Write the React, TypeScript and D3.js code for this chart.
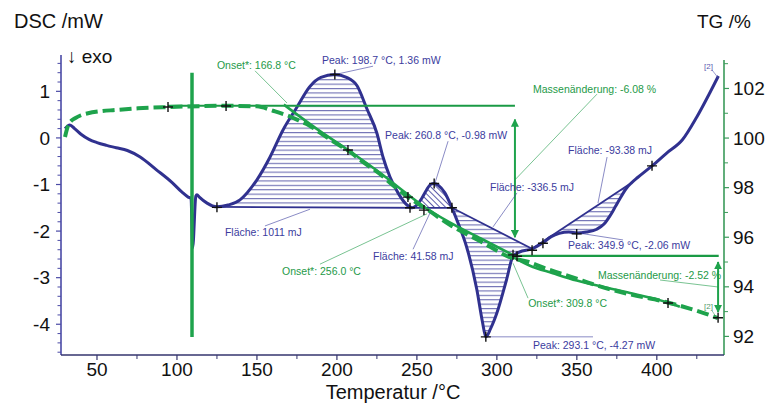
import React from "react";
import * as d3 from "d3";

const W = 769;
const H = 403;

// Axis domains
const tempDomain: [number, number] = [27.5, 442];
const dscDomain: [number, number] = [-4.66, 1.78];
const tgDomain: [number, number] = [91.25, 103.35];

const xMajorTicks = [50, 100, 150, 200, 250, 300, 350, 400];
const xMinorTicks = [75, 125, 175, 225, 275, 325, 375, 425];
const dscMajorTicks = [-4, -3, -2, -1, 0, 1];
const tgMajorTicks = [92, 94, 96, 98, 100, 102];
const tgMinorTicks = [93, 95, 97, 99, 101, 103];

// DSC curve [T °C, mW]
const dscCurve: [number, number][] = [
  [30, 0.2], [33, 0.28], [36, 0.2], [40, 0.08], [45, -0.03], [50, -0.1], [56, -0.16],
  [62, -0.21], [69, -0.27], [77, -0.41], [87, -0.68], [97, -0.96], [103, -1.16],
  [107, -1.27], [108.8, -1.3], [109.8, -2.36], [111.8, -1.25], [112.5, -1.22], [114, -1.27],
  [118.8, -1.4], [125, -1.48], [132, -1.44], [139.4, -1.33], [143.8, -1.18], [150, -0.9],
  [158.2, -0.41], [166.3, 0.17], [175, 0.66], [183, 1.1], [190, 1.3], [198.7, 1.36],
  [206, 1.3], [212.6, 1.12], [218.8, 0.62], [225, 0.1], [228.8, -0.41], [233.2, -0.84],
  [238.2, -1.18], [243.8, -1.44], [247, -1.5], [250.5, -1.42], [253, -1.3], [256, -1.12],
  [258.5, -1.0], [260.8, -0.98], [263.5, -1.02], [267.5, -1.18], [271.9, -1.5], [276, -1.85],
  [281, -2.33], [287.5, -3.26], [291, -3.95], [293.1, -4.27], [296, -4.1], [300, -3.76],
  [306, -3.05], [310, -2.55], [314, -2.45], [322, -2.38], [328.8, -2.25], [334, -2.12],
  [339, -2.05], [345, -2.02], [350, -2.04], [356, -2.02], [362.5, -1.96], [367, -1.85],
  [370.6, -1.68], [374, -1.48], [377, -1.3], [381, -1.08], [384, -0.97], [388, -0.85],
  [397, -0.6], [406, -0.33], [416, -0.04], [425, 0.45], [433, 0.96], [438.5, 1.33],
];

// Integration ranges [T start, T end] and hatch style
const peakAreas: { from: number; to: number; hatch: string }[] = [
  { from: 125, to: 247, hatch: "h" },
  { from: 247, to: 271.9, hatch: "d" },
  { from: 271.9, to: 322, hatch: "h" },
  { from: 322, to: 384, hatch: "h" },
];

// TG curve [T °C, %] (dashed)
const tgCurve: [number, number][] = [
  [30, 100.04], [31.9, 100.5], [34, 100.7], [36.3, 100.8], [40, 100.92], [44.4, 101.0],
  [52, 101.08], [61.3, 101.13], [75.6, 101.2], [94.4, 101.25], [130, 101.3], [150, 101.28],
  [160, 101.1], [170.6, 100.87], [177, 100.68], [183, 100.5], [189.4, 100.22], [198, 99.85],
  [206.9, 99.5], [216, 99.05], [226.9, 98.55], [235, 98.1], [243.8, 97.65], [258, 97.05],
  [270.6, 96.5], [289.4, 95.85], [310, 95.15], [320, 95.0], [331.3, 94.72], [347.5, 94.38],
  [364.4, 94.02], [383, 93.7], [406.3, 93.38], [420.6, 93.12], [431.3, 92.9], [438.1, 92.74],
];

// Tangent / evaluation lines (solid) [T, %]
const tangentStep1: [number, number][] = [
  [166.8, 101.35], [189.4, 100.28], [206.9, 99.52], [226.9, 98.6], [243.8, 97.75],
  [256.3, 97.15], [272, 96.55], [290, 95.95], [310.1, 95.28],
];
const tangentStep2: [number, number][] = [
  [310.1, 95.2], [320.7, 94.85], [335, 94.55], [350, 94.25], [380, 93.8], [406.3, 93.38], [414.4, 93.2],
];
const levelUpper: [number, number][] = [[94.4, 101.3], [311.3, 101.3]];
const levelLower: [number, number][] = [[310.1, 95.25], [438.7, 95.25]];
const tgGlitch: [number, number][] = [[109.4, 102.63], [109.4, 91.98]];
const massArrows: [number, number, number][] = [
  [311.3, 100.75, 96.0],
  [438.3, 95.0, 92.98],
];

// Cross markers
const dscMarks: [number, number][] = [
  [125, -1.49], [198.7, 1.36], [244.4, -1.27], [245.7, -1.5], [254.4, -1.55], [260.8, -0.98],
  [271.9, -1.5], [293.1, -4.27], [310.1, -2.51], [312.6, -2.54], [322, -2.41], [328.8, -2.26],
  [349.9, -2.06], [397, -0.6],
];
const tgMarks: [number, number][] = [
  [94.4, 101.25], [130.7, 101.29], [206.9, 99.52], [407, 93.35], [438.3, 92.75],
];

// Annotations (anchored in T / mW coordinates)
type Ann = { text: string; t: number; v: number; color: string; anchor?: string; leader: [number, number, number, number] };
const BLUE_T = "#3b3c9e";
const GREEN_T = "#1e9a48";
const annotations: Ann[] = [
  { text: "Onset*: 166.8 °C", t: 125.0, v: 1.48, color: GREEN_T, leader: [148.8, 1.44, 168.8, 0.75] },
  { text: "Peak: 198.7 °C, 1.36 mW", t: 190.7, v: 1.59, color: BLUE_T, leader: [200.1, 1.37, 222.6, 1.54] },
  { text: "Peak: 260.8 °C, -0.98 mW", t: 230.1, v: -0.02, color: BLUE_T, leader: [269.5, -0.07, 261.3, -0.97] },
  { text: "Fläche: 1011 mJ", t: 130.0, v: -2.1, color: BLUE_T, leader: [155.0, -1.89, 183.2, -1.53] },
  { text: "Onset*: 256.0 °C", t: 165.7, v: -2.94, color: GREEN_T, leader: [189.4, -2.71, 256.3, -1.63] },
  { text: "Fläche: 41.58 mJ", t: 222.6, v: -2.62, color: BLUE_T, leader: [247.6, -2.39, 258.2, -1.61] },
  { text: "Fläche: -336.5 mJ", t: 295.7, v: -1.14, color: BLUE_T, leader: [312.6, -1.18, 297.6, -1.91] },
  { text: "Massenänderung: -6.08 %", t: 322.6, v: 0.96, color: GREEN_T, leader: [362.6, 0.94, 311.3, -0.9] },
  { text: "Fläche: -93.38 mJ", t: 344.5, v: -0.35, color: BLUE_T, leader: [368.9, -0.41, 363.2, -1.4] },
  { text: "Peak: 349.9 °C, -2.06 mW", t: 344.5, v: -2.39, color: BLUE_T, leader: [350.7, -2.04, 378.9, -2.19] },
  { text: "Peak: 293.1 °C, -4.27 mW", t: 322.6, v: -4.53, color: BLUE_T, leader: [293.8, -4.27, 360.1, -4.27] },
  { text: "Onset*: 309.8 °C", t: 368.9, v: -3.63, color: GREEN_T, anchor: "end", leader: [319.5, -3.44, 310.1, -2.69] },
  { text: "Massenänderung: -2.52 %", t: 363.2, v: -3.03, color: GREEN_T, leader: [402.0, -3.05, 438.3, -3.2] },
];
const smallTags: Ann[] = [
  { text: "[2]", t: 429.5, v: 1.48, color: "#5a5ab0", leader: [434.5, 1.46, 438.3, 1.29] },
  { text: "[2]", t: 429.5, v: -3.67, color: "#4f9a6a", leader: [434.5, -3.71, 437.6, -3.87] },
];

const FONT = "'Liberation Sans', Arial, Helvetica, sans-serif";
const DSC_COLOR = "#30318f";
const TG_COLOR = "#1ea34c";
const HATCH = "#5d5eab";

export default function App() {
  const left = 61, right = 724, top = 55, bottom = 355;
  const x = d3.scaleLinear().domain(tempDomain).range([left, right]);
  const yL = d3.scaleLinear().domain(dscDomain).range([bottom, top]);
  const yR = d3.scaleLinear().domain(tgDomain).range([bottom, top]);

  const dscLine = d3.line<[number, number]>().x((d) => x(d[0])).y((d) => yL(d[1])).curve(d3.curveMonotoneX);
  const tgLine = d3.line<[number, number]>().x((d) => x(d[0])).y((d) => yR(d[1])).curve(d3.curveMonotoneX);
  const tgStraight = d3.line<[number, number]>().x((d) => x(d[0])).y((d) => yR(d[1]));

  const dscMinor = d3.range(-46, 17, 2).map((v) => v / 10).filter((v) => Math.abs(v - Math.round(v)) > 0.01);

  const cross = (cx: number, cy: number, k: string) => (
    <path key={k} d={`M${cx - 5},${cy}H${cx + 5}M${cx},${cy - 5}V${cy + 5}`} stroke="#111" strokeWidth={1.4} />
  );

  return (
    <svg width={W} height={H} style={{ position: "absolute", left: 0, top: 0, background: "#fff" }} fontFamily={FONT}>
      <defs>
        <pattern id="hatchH" patternUnits="userSpaceOnUse" width={8} height={4.4}>
          <line x1={0} y1={0.6} x2={8} y2={0.6} stroke={HATCH} strokeWidth={1} />
        </pattern>
        <pattern id="hatchD" patternUnits="userSpaceOnUse" width={4} height={4} patternTransform="rotate(-45)">
          <line x1={0.5} y1={0} x2={0.5} y2={4} stroke={HATCH} strokeWidth={1} />
        </pattern>
        <marker id="arr" viewBox="0 0 10 10" refX={9} refY={5} markerWidth={8} markerHeight={8} markerUnits="userSpaceOnUse" orient="auto-start-reverse">
          <path d="M0,0L10,5L0,10z" fill={TG_COLOR} />
        </marker>
      </defs>

      {/* Hatched areas */}
      {peakAreas.map((a, i) => {
        const pts = dscCurve.filter((d) => d[0] >= a.from - 1e-6 && d[0] <= a.to + 1e-6);
        return <path key={i} d={(dscLine(pts) || "") + "Z"} fill={a.hatch === "h" ? "url(#hatchH)" : "url(#hatchD)"} stroke="none" />;
      })}
      {/* Baselines */}
      {peakAreas.map((a, i) => {
        const p0 = dscCurve.find((d) => Math.abs(d[0] - a.from) < 1e-6)!;
        const p1 = dscCurve.find((d) => Math.abs(d[0] - a.to) < 1e-6)!;
        return <line key={"b" + i} x1={x(p0[0])} y1={yL(p0[1])} x2={x(p1[0])} y2={yL(p1[1])} stroke={DSC_COLOR} strokeWidth={1.8} />;
      })}

      {/* DSC curve */}
      <path d={dscLine(dscCurve) || ""} fill="none" stroke={DSC_COLOR} strokeWidth={3} strokeLinejoin="round" />

      {/* TG lines */}
      <path d={tgStraight(tgGlitch) || ""} stroke={TG_COLOR} strokeWidth={3.5} fill="none" />
      <path d={tgStraight(levelUpper) || ""} stroke="#1a9a45" strokeWidth={2} fill="none" />
      <path d={tgStraight(levelLower) || ""} stroke="#1a9a45" strokeWidth={2.2} fill="none" />
      <path d={tgLine(tangentStep1) || ""} stroke={TG_COLOR} strokeWidth={2.6} fill="none" />
      <path d={tgLine(tangentStep2) || ""} stroke={TG_COLOR} strokeWidth={2.6} fill="none" />
      <path d={tgLine(tgCurve) || ""} stroke={TG_COLOR} strokeWidth={4} fill="none" strokeDasharray="12,5" />
      {massArrows.map((a, i) => (
        <line key={"ar" + i} x1={x(a[0])} y1={yR(a[1])} x2={x(a[0])} y2={yR(a[2])} stroke={TG_COLOR} strokeWidth={2}
          markerStart="url(#arr)" markerEnd="url(#arr)" />
      ))}

      {/* Leaders and annotation text */}
      {[...annotations, ...smallTags].map((a, i) => (
        <line key={"l" + i} x1={x(a.leader[0])} y1={yL(a.leader[1])} x2={x(a.leader[2])} y2={yL(a.leader[3])}
          stroke={a.color} strokeOpacity={0.75} strokeWidth={0.8} />
      ))}

      {/* Markers */}
      {dscMarks.map((d, i) => cross(x(d[0]), yL(d[1]), "dm" + i))}
      {tgMarks.map((d, i) => cross(x(d[0]), yR(d[1]), "tm" + i))}

      {annotations.map((a, i) => (
        <text key={"t" + i} x={x(a.t)} y={yL(a.v)} fill={a.color} fontSize={10.5} textAnchor={a.anchor || "start"}>{a.text}</text>
      ))}
      {smallTags.map((a, i) => (
        <text key={"s" + i} x={x(a.t)} y={yL(a.v)} fill={a.color} fontSize={8}>{a.text}</text>
      ))}

      {/* Left axis */}
      <line x1={left} y1={top} x2={left} y2={bottom} stroke="#4a4aa6" strokeWidth={1.6} />
      {dscMajorTicks.map((t) => (
        <g key={"lm" + t}>
          <line x1={left - 5} x2={left} y1={yL(t)} y2={yL(t)} stroke="#4a4aa6" strokeWidth={1.2} />
          <text x={50} y={yL(t)} dy="0.35em" textAnchor="end" fontSize={19} fill="#111">{t}</text>
        </g>
      ))}
      {dscMinor.map((t, i) => (
        <line key={"ln" + i} x1={left - 3.5} x2={left} y1={yL(t)} y2={yL(t)} stroke="#4a4aa6" strokeWidth={1} />
      ))}

      {/* Right axis */}
      <line x1={right} y1={top + 5} x2={right} y2={bottom} stroke="#3a9a5a" strokeWidth={1.6} />
      {tgMajorTicks.map((t) => (
        <g key={"rm" + t}>
          <line x1={right} x2={right + 5} y1={yR(t)} y2={yR(t)} stroke="#3a9a5a" strokeWidth={1.2} />
          <text x={733} y={yR(t)} dy="0.35em" textAnchor="start" fontSize={19} fill="#111">{t}</text>
        </g>
      ))}
      {tgMinorTicks.map((t) => (
        <line key={"rn" + t} x1={right} x2={right + 4} y1={yR(t)} y2={yR(t)} stroke="#3a9a5a" strokeWidth={1} />
      ))}

      {/* Bottom axis */}
      <line x1={left} y1={bottom} x2={right} y2={bottom} stroke="#34346e" strokeWidth={1.6} />
      {xMajorTicks.map((t) => (
        <g key={"xm" + t}>
          <line x1={x(t)} x2={x(t)} y1={bottom} y2={bottom + 5} stroke="#34346e" strokeWidth={1.2} />
          <text x={x(t)} y={376} textAnchor="middle" fontSize={19} fill="#111">{t}</text>
        </g>
      ))}
      {xMinorTicks.map((t) => (
        <line key={"xn" + t} x1={x(t)} x2={x(t)} y1={bottom} y2={bottom + 4} stroke="#34346e" strokeWidth={1} />
      ))}

      {/* Titles */}
      <text x={14} y={28} fontSize={20} fill="#111">DSC /mW</text>
      <text x={697} y={28} fontSize={19} fill="#111">TG /%</text>
      <text x={67} y={63} fontSize={19} fill="#111">↓ exo</text>
      <text x={393} y={399} textAnchor="middle" fontSize={20} fill="#111">Temperatur /°C</text>
    </svg>
  );
}
